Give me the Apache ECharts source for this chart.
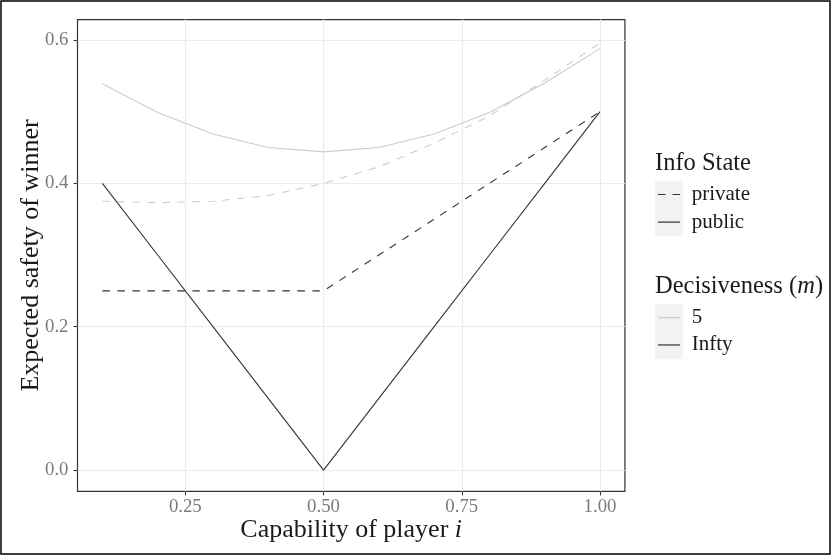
<!DOCTYPE html>
<html>
<head>
<meta charset="utf-8">
<script src="https://cdn.jsdelivr.net/npm/echarts@6/dist/echarts.min.js"></script>
<style>html,body{margin:0;padding:0;background:#fff;}#c{width:831px;height:555px;}</style>
</head>
<body>
<div id="c"></div>
<script>
// ---- data ----
const capability = [0.1, 0.2, 0.3, 0.4, 0.5, 0.6, 0.7, 0.8, 0.9, 1.0];
const m5Public   = [0.539, 0.499, 0.469, 0.450, 0.444, 0.450, 0.469, 0.499, 0.540, 0.588];
const m5Private  = [0.375, 0.373, 0.375, 0.383, 0.400, 0.423, 0.456, 0.494, 0.544, 0.596];
const infPublic  = [0.40, 0.30, 0.20, 0.10, 0.00, 0.10, 0.20, 0.30, 0.40, 0.50];
const infPrivate = [0.25, 0.25, 0.25, 0.25, 0.25, 0.30, 0.35, 0.40, 0.45, 0.50];
const xTicks = [0.25, 0.50, 0.75, 1.00];
const yTicks = [0.0, 0.2, 0.4, 0.6];
const infoStates = ['private', 'public'];
const decisiveness = ['5', 'Infty'];

const FONT = '"Liberation Serif", "DejaVu Serif", serif';
const LIGHT = '#cccccc', DARK = '#333333';
const DASH = [7.5, 7.5];
const ICON_DASHED = 'path://M0,0h7.5v1.2h-7.5z M14.5,0h7.5v1.2h-7.5z';
const ICON_SOLID = 'rect';

function pairs(ys) { return capability.map((x, i) => [x, ys[i]]); }
function lineSeries(name, ys, color, dashed) {
  return {
    name: name, type: 'line', data: pairs(ys), symbol: 'none', silent: true,
    lineStyle: { color: color, width: 1.1, type: dashed ? DASH : 'solid' },
    itemStyle: { color: color }
  };
}
function legendSeries(name, color) {
  return { name: name, type: 'line', data: [], symbol: 'none',
    lineStyle: { color: color, width: 1.2 }, itemStyle: { color: color } };
}
const legendText = { fontFamily: FONT, fontSize: 21, color: '#1a1a1a', lineHeight: 27.6, padding: [0, 0, 0, 6.7] };

const chart = echarts.init(document.getElementById('c'), null, { renderer: 'canvas' });
chart.setOption({
  animation: false,
  backgroundColor: '#ffffff',
  title: [
    { text: 'Info State', left: 655, top: 151.5, padding: 0,
      textStyle: { fontFamily: FONT, fontSize: 24.5, fontWeight: 'normal', color: '#1a1a1a' } },
    { text: '{a|Decisiveness (}{i|m}{a|)}', left: 655, top: 274.5, padding: 0,
      textStyle: { fontFamily: FONT, fontSize: 24.5, fontWeight: 'normal', color: '#1a1a1a',
        rich: {
          a: { fontFamily: FONT, fontSize: 24.5, color: '#1a1a1a' },
          i: { fontFamily: FONT, fontSize: 24.5, fontStyle: 'italic', color: '#1a1a1a' }
        } } }
  ],
  graphic: [
    { type: 'rect', z: -1, silent: true, shape: { x: 655, y: 180.7, width: 27.7, height: 55.3 }, style: { fill: '#f2f2f2' } },
    { type: 'rect', z: -1, silent: true, shape: { x: 655, y: 304, width: 27.7, height: 54.7 }, style: { fill: '#f2f2f2' } },
    { type: 'rect', silent: true, shape: { x: 1, y: 1, width: 829, height: 553 }, style: { fill: 'none', stroke: '#000', lineWidth: 1.5 } }
  ],
  legend: [
    { data: [ { name: infoStates[0], icon: ICON_DASHED }, { name: infoStates[1], icon: ICON_SOLID } ],
      orient: 'vertical', left: 658, top: 180.7, padding: 0, itemGap: 0,
      itemWidth: 22, itemHeight: 1.2, selectedMode: false, itemStyle: { borderWidth: 0 },
      textStyle: legendText },
    { data: [ { name: decisiveness[0], icon: ICON_SOLID }, { name: decisiveness[1], icon: ICON_SOLID } ],
      orient: 'vertical', left: 658, top: 304, padding: 0, itemGap: 0,
      itemWidth: 22, itemHeight: 1.2, selectedMode: false, itemStyle: { borderWidth: 0 },
      textStyle: Object.assign({}, legendText, { lineHeight: 27.3 }) }
  ],
  grid: { left: 77.5, right: 206.1, top: 19.6, bottom: 63.6, show: true, borderColor: DARK, borderWidth: 1.2, backgroundColor: 'transparent' },
  xAxis: {
    type: 'value', min: 0.055, max: 1.045,
    name: '{a|Capability of player }{i|i}', nameLocation: 'middle', nameGap: 25.5, nameMoveOverlap: false,
    nameTextStyle: { fontFamily: FONT, fontSize: 26, color: '#1a1a1a',
      rich: { a: { fontFamily: FONT, fontSize: 26, color: '#1a1a1a' },
              i: { fontFamily: FONT, fontSize: 26, fontStyle: 'italic', color: '#1a1a1a' } } },
    axisLine: { show: false, onZero: false },
    axisTick: { show: true, length: 4, lineStyle: { color: DARK, width: 1.1 }, customValues: xTicks },
    axisLabel: { customValues: xTicks, margin: 6, fontFamily: FONT, fontSize: 18.8, color: '#7a7a7a',
      formatter: v => v.toFixed(2) },
    splitLine: { show: true, lineStyle: { color: '#ebebeb', width: 1.2 } }
  },
  yAxis: {
    type: 'value', min: -0.0298, max: 0.6285,
    name: 'Expected safety of winner', nameLocation: 'middle', nameGap: 33, nameMoveOverlap: false,
    nameTextStyle: { fontFamily: FONT, fontSize: 26, color: '#1a1a1a' },
    axisLine: { show: false, onZero: false },
    axisTick: { show: true, length: 4, lineStyle: { color: DARK, width: 1.1 }, customValues: yTicks },
    axisLabel: { customValues: yTicks, margin: 9, fontFamily: FONT, fontSize: 18.8, color: '#7a7a7a',
      formatter: v => v.toFixed(1) },
    splitLine: { show: true, lineStyle: { color: '#ebebeb', width: 1.2 } }
  },
  series: [
    lineSeries('m5 private', m5Private, LIGHT, true),
    lineSeries('m5 public', m5Public, LIGHT, false),
    lineSeries('inf private', infPrivate, DARK, true),
    lineSeries('inf public', infPublic, DARK, false),
    legendSeries('private', DARK),
    legendSeries('public', DARK),
    legendSeries('5', LIGHT),
    legendSeries('Infty', DARK)
  ]
});
</script>
</body>
</html>
